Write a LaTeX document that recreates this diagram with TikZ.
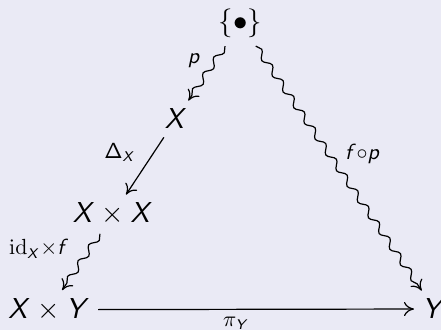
\documentclass[tikz,border=0pt]{standalone}
\usepackage{amsmath}
\usetikzlibrary{arrows.meta,decorations.pathmorphing}
\DeclareMathAlphabet{\mathsfit}{OT1}{cmss}{m}{sl}
\definecolor{bgc}{RGB}{234,234,245}
\begin{document}
\begin{tikzpicture}[x=0.5pt,y=-0.5pt,
  obj/.style={inner sep=0pt, outer sep=4.2pt, font=\fontsize{15}{18}\selectfont},
  lab/.style={inner sep=0pt, font=\fontsize{15}{18}\selectfont},
  arr/.style={line width=0.6pt, -{Computer Modern Rightarrow[length=5pt,width=7pt]}},
  squig/.style={arr, decorate, decoration={snake, amplitude=1.6pt, segment length=9.5pt, post length=3pt}}]
\fill[bgc] (0,0) rectangle (441,330);
\useasboundingbox (0,0) rectangle (441,330);
\node[obj, anchor=base] (pt) at (240.3,30.5) {$\{\bullet\}$};
\node[obj, anchor=base] (x) at (176,129) {$\mathsfit{X}$};
\node[obj, anchor=base west] (xx) at (64.6,223) {$\mathsfit{X}\times\mathsfit{X}$};
\node[obj, anchor=base west] (xy) at (0,318.5) {$\mathsfit{X}\times\mathsfit{Y}$};
\node[obj, anchor=base west] (y) at (414,319) {$\mathsfit{Y}$};
\draw[squig] (pt) -- (x);
\draw[squig] (pt) -- (y);
\draw[arr] (x) -- (xx);
\draw[squig] (xx) -- (xy);
\draw[arr] (xy) -- (y);
\node[lab, anchor=base] (lp) at (194,64) {$\scriptstyle\mathsfit{p}$};
\node[lab, anchor=base] (ld) at (120,158.3) {$\scriptstyle\mathsf{\Delta}_{\mathsfit{X}}$};
\node[lab, anchor=base] (lfp) at (362.5,160) {$\scriptstyle\mathsfit{f}\circ\mathsfit{p}$};
\node[lab, anchor=base] (lid) at (39,255) {$\scriptstyle\mathrm{id}_{\mathsfit{X}}\times\mathsfit{f}$};
\node[lab, anchor=base] (lpi) at (236,326.5) {$\scriptstyle\pi_{\mathsfit{Y}}$};
\end{tikzpicture}
\end{document}
